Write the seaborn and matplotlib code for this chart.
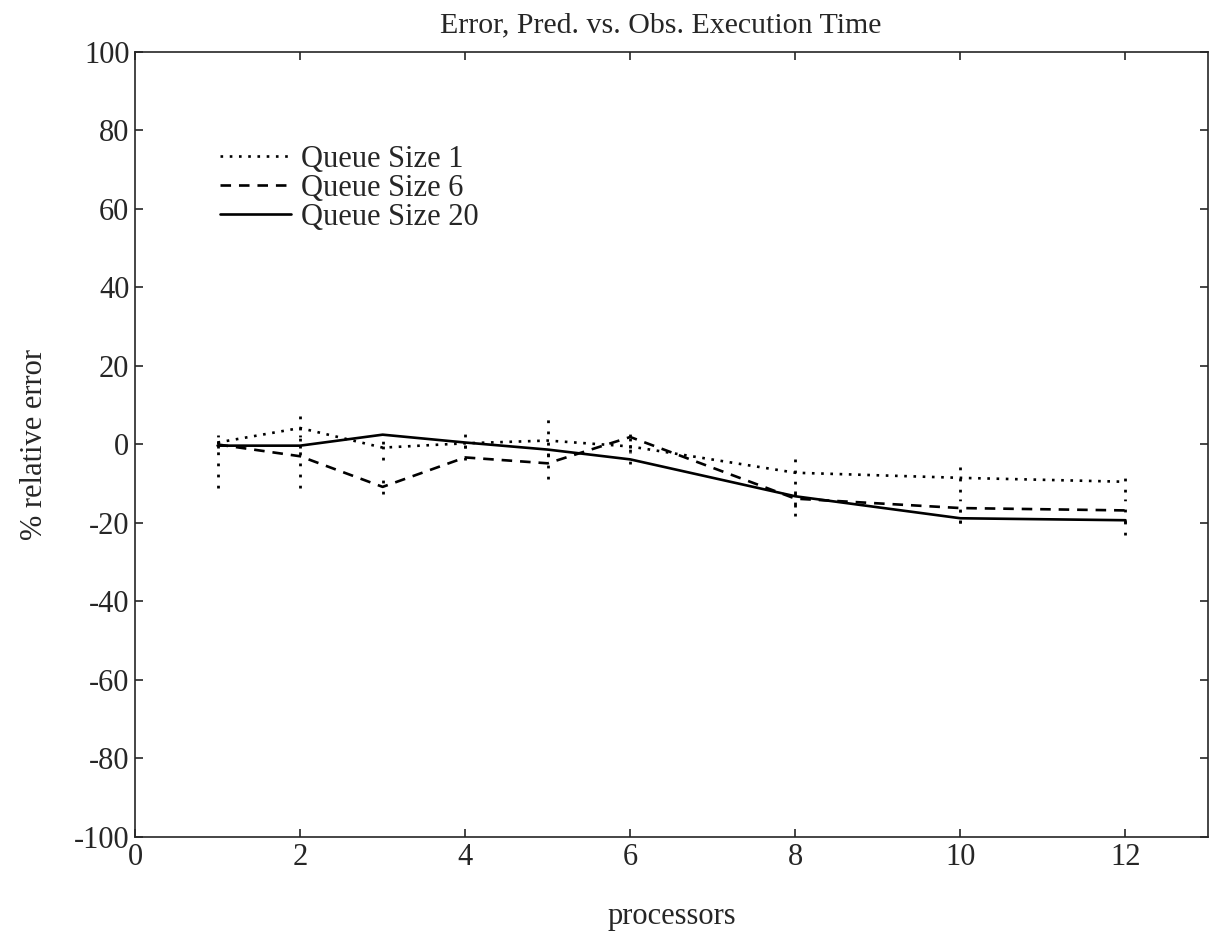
import numpy as np
import pandas as pd
import matplotlib
matplotlib.use('Agg')
import matplotlib.pyplot as plt
import seaborn as sns

# data
processors = [1, 2, 3, 4, 5, 6, 8, 10, 12]
q1 = [0.5, 4.2, -0.8, 0.3, 1.0, -0.5, -7.2, -8.5, -9.5]
q6 = [0.0, -3.0, -10.8, -3.3, -4.8, 1.9, -13.8, -16.2, -16.8]
q20 = [-0.3, -0.3, 2.5, 0.5, -1.3, -3.8, -13.2, -18.8, -19.3]

# error bar bounds (low, high) per series
q1_lo = [0.0, 1.0, -4.0, -1.0, -3.0, -2.0, -10.0, -12.0, -12.0]
q1_hi = [3.0, 9.0, 1.0, 3.0, 7.2, 3.8, -3.1, -4.9, -7.4]
q6_lo = [-11.0, -11.0, -12.7, -4.0, -8.7, -1.0, -18.3, -20.0, -20.0]
q6_hi = [1.0, -1.0, -8.0, -2.0, -2.0, 3.5, -11.0, -14.0, -14.0]
q20_lo = [-1.0, -1.0, 0.0, -1.0, -3.0, -5.0, -16.0, -20.0, -23.1]
q20_hi = [2.5, 2.5, 3.0, 2.0, 0.0, -2.0, -11.0, -17.0, -18.0]

labels = ['Queue Size 1', 'Queue Size 6', 'Queue Size 20']

df = pd.DataFrame({
    'processors': processors * 3,
    'error': q1 + q6 + q20,
    'series': [labels[0]] * 9 + [labels[1]] * 9 + [labels[2]] * 9,
})

sns.set_style('ticks')
plt.rcParams['font.family'] = ['Liberation Serif', 'DejaVu Serif']
plt.rcParams['axes.unicode_minus'] = False

fig = plt.figure(figsize=(12.09, 9.40), dpi=100)
ax = fig.add_axes([0.1117, 0.1096, 0.8875, 0.8351])

dashes = {labels[0]: (1, 2.5), labels[1]: (4, 3), labels[2]: ''}
sns.lineplot(data=df, x='processors', y='error', style='series', dashes=dashes,
             color='black', lw=1.9, ax=ax)

# dotted error bars
for lo, hi in [(q1_lo, q1_hi), (q6_lo, q6_hi), (q20_lo, q20_hi)]:
    ax.vlines(processors, lo, hi, colors='black', linestyles=(0, (1, 3)), lw=2)

ax.set_xlim(0, 13)
ax.set_ylim(-100, 100)
ax.set_xticks([0, 2, 4, 6, 8, 10, 12])
ax.set_yticks(np.arange(-100, 101, 20))
ax.tick_params(direction='in', top=True, right=True, length=6, width=1.2,
               labelsize=22, pad=4)
for spine in ax.spines.values():
    spine.set_linewidth(1.2)

ax.set_title('Error, Pred. vs. Obs. Execution Time', fontsize=21.5, pad=14, x=0.49)
ax.set_xlabel('processors', fontsize=22, labelpad=22)
ax.set_ylabel('% relative error', fontsize=22, labelpad=18)

ax.legend(title=None, loc='upper left', bbox_to_anchor=(0.054, 0.917), frameon=False,
          fontsize=22, handlelength=2.3, handletextpad=0.35, labelspacing=0.0)

fig.savefig('out.png', dpi=100)
